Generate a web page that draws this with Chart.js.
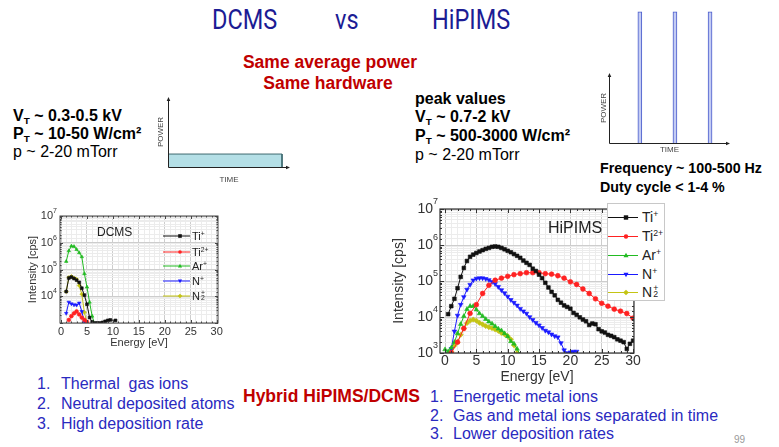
<!DOCTYPE html>
<html>
<head>
<meta charset="utf-8">
<title>DCMS vs HiPIMS</title>
<script src="https://cdn.jsdelivr.net/npm/chart.js@4.4.1/dist/chart.umd.min.js"></script>
<style>
  html, body { margin:0; padding:0; background:#fff; }
  body { width:779px; height:447px; position:relative; overflow:hidden;
         font-family:"Liberation Sans", Arial, Helvetica, sans-serif; color:#000; }
  .t { position:absolute; white-space:nowrap; line-height:1; }
  .title { font-family:Roboto, "Liberation Sans", sans-serif; font-size:28px; color:#1c1c94;
           transform:scaleX(0.84); transform-origin:left center; }
  .red { color:#c00000; font-weight:bold; font-size:17.5px; }
  .mid { transform:translateX(-50%); }
  .param { font-size:16px; }
  .bold { font-weight:bold; }
  sub.s { font-size:0.62em; vertical-align:-0.3em; line-height:0; }
  .freq { font-size:15px; font-weight:bold; transform:scaleX(0.95); transform-origin:left center; }
  .list { font-size:16px; color:#2a2ac0; }
  .pg { font-size:10px; color:#9a9a9a; }
  canvas { position:absolute; }
  .legend { position:absolute; }
  .hipLegend { background:#fff; border:1px solid #c8c8c8; box-sizing:border-box; }
  .lrow { position:absolute; left:0; display:flex; align-items:center; white-space:nowrap; line-height:1; color:#222; }
  .lrow svg { display:block; }
  .lrow sup { font-size:0.62em; vertical-align:0.6em; line-height:0; }
  .ss { position:relative; display:inline-block; width:0.45em; height:1em; vertical-align:top; }
  .ss .u { position:absolute; left:1px; top:-0.12em; font-size:0.62em; line-height:1; }
  .ss .d { position:absolute; left:1px; top:0.62em; font-size:0.62em; line-height:1; }
  .inlab { position:absolute; white-space:nowrap; line-height:1; color:#222; }
</style>
</head>
<body>

<!-- slide text -->
<div class="t title" style="left:212px;top:6px;">DCMS</div>
<div class="t title" style="left:335px;top:6px;">vs</div>
<div class="t title" style="left:432px;top:6px;">HiPIMS</div>

<div class="t red mid" style="left:330px;top:54px;">Same average power</div>
<div class="t red mid" style="left:328px;top:75px;">Same hardware</div>

<div class="t param bold" style="left:13px;top:108px;">V<sub class="s">T</sub> ~ 0.3-0.5 kV</div>
<div class="t param bold" style="left:13px;top:126px;">P<sub class="s">T</sub> ~ 10-50 W/cm²</div>
<div class="t param" style="left:13px;top:144px;">p ~ 2-20 mTorr</div>

<div class="t param bold" style="left:415px;top:91px;">peak values</div>
<div class="t param bold" style="left:415px;top:109px;">V<sub class="s">T</sub> ~ 0.7-2 kV</div>
<div class="t param bold" style="left:415px;top:128px;">P<sub class="s">T</sub> ~ 500-3000 W/cm²</div>
<div class="t param" style="left:415px;top:147px;">p ~ 2-20 mTorr</div>

<div class="t freq" style="left:600px;top:160px;">Frequency ~ 100-500 Hz</div>
<div class="t freq" style="left:600px;top:179px;">Duty cycle &lt; 1-4 %</div>

<div class="t list" style="left:37px;top:376px;">1.</div>
<div class="t list" style="left:61px;top:376px;">Thermal&nbsp; gas ions</div>
<div class="t list" style="left:37px;top:396px;">2.</div>
<div class="t list" style="left:61px;top:396px;">Neutral deposited atoms</div>
<div class="t list" style="left:37px;top:416px;">3.</div>
<div class="t list" style="left:61px;top:416px;">High deposition rate</div>

<div class="t red" style="left:243px;top:388px;">Hybrid HiPIMS/DCMS</div>

<div class="t list" style="left:430px;top:389px;">1.</div>
<div class="t list" style="left:453px;top:389px;">Energetic metal ions</div>
<div class="t list" style="left:430px;top:408px;">2.</div>
<div class="t list" style="left:453px;top:408px;">Gas and metal ions separated in time</div>
<div class="t list" style="left:430px;top:426px;">3.</div>
<div class="t list" style="left:453px;top:426px;">Lower deposition rates</div>

<div class="t pg" style="left:734px;top:435px;">99</div>

<!-- charts -->
<canvas id="dcPower" width="155" height="105" style="left:145px;top:85px;"></canvas>
<canvas id="pulsePower" width="150" height="155" style="left:590px;top:5px;"></canvas>
<canvas id="dcms" width="210" height="145" style="left:20px;top:205px;"></canvas>
<canvas id="hipims" width="265" height="200" style="left:380px;top:195px;"></canvas>

<div class="inlab" style="left:97px;top:226px;font-size:12px;">DCMS</div>
<div class="inlab" style="left:548px;top:220px;font-size:16px;">HiPIMS</div>

<div id="dcmsLegend" class="legend" style="left:163px;top:228px;width:50px;height:80px;"></div>
<div id="hipLegend" class="legend hipLegend" style="left:607px;top:203px;width:58px;height:98px;"></div>

<script>
// ---------- ion species ----------
const ionLabels = ['Ti+', 'Ti2+', 'Ar+', 'N+', 'N2+'];
const ionLegendHtml = ['Ti<sup>+</sup>', 'Ti<sup>2+</sup>', 'Ar<sup>+</sup>', 'N<sup>+</sup>',
                       'N<span class="ss"><span class="u">+</span><span class="d">2</span></span>'];
const ionColors = ['#111111', '#ff2222', '#22bb22', '#1a1aff', '#c4c414'];
const ionStyles = ['rect', 'circle', 'triangle', 'triangle', 'rectRot'];
const ionRotations = [0, 0, 0, 180, 0];

// ---------- HiPIMS ion energy distributions, intensity in cps ----------
const hipTiPlusE = [0.5,1,1.5,2,2.5,3,3.5,4,4.5,5,5.5,6,6.5,7,7.5,8,8.5,9,9.5,10,10.5,11,11.5,12,12.5,13,13.5,14,14.5,15,
                    15.5,16,16.5,17,17.5,18,18.5,19,19.5,20,20.5,21,21.5,22,22.5,23,23.5,24,24.5,25,25.5,26,26.5,27,27.5,28,28.5,29,29.5,30];
const hipTiPlusI = [12000,20000,32000,63000,130000,230000,360000,470000,540000,600000,
                    660000,720000,780000,830000,890000,910000,890000,830000,760000,690000,
                    630000,560000,500000,440000,370000,320000,280000,220000,190000,150000,
                    120000,89000,66000,50000,40000,30000,25000,21000,19000,17000,
                    13000,11500,9800,8500,7600,6000,6600,6300,4600,4000,
                    3700,3200,3000,2750,2400,2200,2000,1300,1800,2200];

const hipTi2PlusE = [1,2,3,4,5,6,7,8,9,10,11,12,13,14,15,16,17,18,19,20,21,22,23,24,25,26,27,28,29,30];
const hipTi2PlusI = [1000,2000,4800,12600,22000,45000,76000,105000,120000,135000,
                     150000,160000,170000,170000,170000,160000,155000,140000,120000,95000,
                     80000,60000,45000,32000,24000,20000,16500,14500,12500,9300];

const hipArPlusE = [0,0.5,1,1.5,2,2.5,3,3.5,4,4.5,5,5.5,6,6.5,7,7.5,8,8.5,9,9.5,10,10.5,11,11.5,12];
const hipArPlusI = [1250,1100,1400,2000,3500,6300,10500,16500,20000,20000,16000,12500,10500,
                    8700,7400,6500,5500,4700,4200,3500,2900,2100,1800,1300,900];

const hipNPlusE = [1,1.5,2,2.5,3,3.5,4,4.5,5,5.5,6,6.5,7,7.5,8,8.5,9,9.5,10,10.5,11,11.5,12,12.5,13,13.5,14,14.5,
                   15,15.5,16,16.5,17,17.5,18,18.5,19,19.5,20,20.5,21];
const hipNPlusI = [1300,4000,11000,22000,36000,58000,79000,105000,117000,120000,
                   120000,115000,107000,95000,83000,69000,56000,46000,37000,30000,
                   25000,21000,17000,14500,12500,10000,8300,6900,5900,5000,
                   4200,3800,3300,2950,2750,1900,1200,1000,1050,1100,1100];

const hipN2PlusE = [1,1.5,2,2.5,3,3.5,4,4.5,5,5.5,6,6.5,7,7.5,8,8.5,9,9.5,10,10.5,11,11.5];
const hipN2PlusI = [1100,1600,2000,3200,4800,6800,7900,8500,7900,6900,6200,5600,5200,4900,4500,4100,
                    3600,3300,2950,2400,1650,1000];

// ---------- DCMS ion energy distributions, intensity in cps ----------
const dcTiPlusE = [1,1.5,2,2.5,3,3.5,4,4.5,5,5.5,6,6.5,7,7.5,8,8.5,9,9.5,10.5];
const dcTiPlusI = [15000,48000,52000,46000,40000,33000,20000,11000,5000,1600,1100,1000,1000,1000,1050,1150,1250,1300,1250];
const dcTi2PlusE = [1.5,2,2.5,3,3.5,4,4.5,5];
const dcTi2PlusI = [1300,1800,2300,2700,2100,1600,1300,1100];
const dcArPlusE = [1,1.5,2,2.5,3,3.5,4,4.5,5,5.5,6,6.5];
const dcArPlusI = [200000,500000,750000,720000,560000,420000,300000,70000,22000,6000,1800,900];
const dcNPlusE = [1,1.5,2,2.5,3,3.5,4,4.5];
const dcNPlusI = [2300,6000,5200,4800,4700,5600,2700,1100];
const dcN2PlusE = [1,1.5,2,2.5,3,3.5,4,4.5,5];
const dcN2PlusI = [15000,50000,55000,48000,43000,25000,12000,2500,1000];

// tick labels: energy every 5 eV, intensity as powers of ten
const energyLabelStep = 5;
const hipDecades = [3, 4, 5, 6, 7];
const dcmsDecades = [4, 5, 6, 7];

// ---------- power vs time sketches ----------
const dcPowerTime = [0, 10, 10];
const dcPowerLevel = [1, 1, 0];
const pulseTimes = [2.55, 5.45, 8.35];
const pulsePeak = [10, 10, 10];

// ---------- helpers ----------
const FAM = '"Liberation Sans", Arial, Helvetica, sans-serif';
Chart.defaults.font.family = FAM;
Chart.defaults.color = '#333';
Chart.defaults.animation = false;

const pts = (xs, ys) => xs.map((x, i) => ({ x, y: ys[i] }));
const isDecade = v => Math.abs(Math.log10(v) - Math.round(Math.log10(v))) < 1e-6;
const isMajorE = v => Math.abs(v % energyLabelStep) < 1e-9;

function ionSet(i, xs, ys, r) {
  return {
    label: ionLabels[i], data: pts(xs, ys),
    borderColor: ionColors[i], backgroundColor: ionColors[i],
    borderWidth: 1, tension: 0,
    pointStyle: ionStyles[i], rotation: ionRotations[i],
    pointRadius: r, pointBorderWidth: 0.6, pointBorderColor: ionColors[i]
  };
}

// frame, inward tick marks, energy labels and 10^n labels around the plot area
const plotFrame = {
  id: 'plotFrame',
  afterDatasetsDraw(chart, args, o) {
    const { ctx, chartArea: a, scales: { x, y } } = chart;
    ctx.save();
    ctx.strokeStyle = o.color;
    ctx.lineWidth = 1;
    ctx.beginPath();
    x.ticks.forEach(t => {
      const px = Math.round(x.getPixelForValue(t.value)) + 0.5;
      const len = isMajorE(t.value) ? o.major : o.minor;
      ctx.moveTo(px, a.bottom); ctx.lineTo(px, a.bottom - len);
      ctx.moveTo(px, a.top); ctx.lineTo(px, a.top + len);
    });
    y.ticks.forEach(t => {
      const py = Math.round(y.getPixelForValue(t.value)) + 0.5;
      const len = isDecade(t.value) ? o.major : o.minor;
      ctx.moveTo(a.left, py); ctx.lineTo(a.left + len, py);
      ctx.moveTo(a.right, py); ctx.lineTo(a.right - len, py);
    });
    ctx.stroke();
    ctx.lineWidth = o.frameWidth;
    ctx.strokeRect(a.left, a.top, a.right - a.left, a.bottom - a.top);

    ctx.fillStyle = o.labelColor;
    // energy labels under the frame
    ctx.textAlign = 'center';
    ctx.textBaseline = 'top';
    ctx.font = o.baseSize + 'px ' + FAM;
    x.ticks.forEach(t => {
      if (isMajorE(t.value)) ctx.fillText(String(t.value), x.getPixelForValue(t.value), a.bottom + o.xLabelGap);
    });
    // decade labels left of the frame
    ctx.textBaseline = 'middle';
    ctx.textAlign = 'right';
    o.decades.forEach(e => {
      const py = y.getPixelForValue(Math.pow(10, e));
      const xr = a.left - o.gap;
      ctx.font = o.expSize + 'px ' + FAM;
      const ew = ctx.measureText(String(e)).width;
      ctx.fillText(String(e), xr, py - o.expRaise);
      ctx.font = o.baseSize + 'px ' + FAM;
      ctx.fillText('10', xr - ew, py + o.baseShift);
    });
    ctx.restore();
  }
};

// axis lines with arrow heads for the power sketches
const arrowAxes = {
  id: 'arrowAxes',
  afterDraw(chart, args, o) {
    const { ctx, scales: { x, y } } = chart;
    const x0 = Math.round(x.getPixelForValue(0)) + 0.5;
    const y0 = Math.round(y.getPixelForValue(0)) + 0.5;
    const yTop = y.getPixelForValue(o.yEnd);
    const xEnd = x.getPixelForValue(o.xEnd);
    ctx.save();
    ctx.strokeStyle = o.color; ctx.fillStyle = o.color; ctx.lineWidth = 1;
    ctx.beginPath();
    ctx.moveTo(x0, y0); ctx.lineTo(x0, yTop + 3);
    ctx.moveTo(x0, y0); ctx.lineTo(xEnd - 3, y0);
    ctx.stroke();
    ctx.beginPath();
    ctx.moveTo(x0, yTop); ctx.lineTo(x0 - 1.8, yTop + 4); ctx.lineTo(x0 + 1.8, yTop + 4); ctx.closePath();
    ctx.moveTo(xEnd, y0); ctx.lineTo(xEnd - 4, y0 - 1.8); ctx.lineTo(xEnd - 4, y0 + 1.8); ctx.closePath();
    ctx.fill();
    ctx.restore();
  }
};

function energyAxis(min, max, height, fontSize, titleBottom) {
  return {
    type: 'linear', min, max,
    afterFit: s => { s.height = height; },
    ticks: {
      stepSize: 1, autoSkip: false, includeBounds: false, maxTicksLimit: 100, maxRotation: 0,
      font: { size: fontSize }, callback: () => ''
    },
    grid: { drawTicks: false, color: c => (c.tick && isMajorE(c.tick.value) ? '#cdcdcd' : '#ececec') },
    border: { display: false },
    title: { display: true, text: 'Energy [eV]', color: '#333', font: { size: fontSize, lineHeight: 1.2 },
             padding: { top: 0, bottom: titleBottom } }
  };
}

function intensityAxis(width, fontSize, titleTop) {
  return {
    type: 'logarithmic', min: 1000, max: 1e7,
    afterFit: s => { s.width = width; },
    ticks: { autoSkip: false, callback: () => '' },
    grid: { drawTicks: false, color: c => (c.tick && isDecade(c.tick.value) ? '#cdcdcd' : '#ececec') },
    border: { display: false },
    title: { display: true, text: 'Intensity [cps]', color: '#333', font: { size: fontSize, lineHeight: 1.2 },
             padding: { top: titleTop, bottom: 0 } }
  };
}

// ---------- HiPIMS chart ----------
new Chart(document.getElementById('hipims'), {
  type: 'line',
  data: { datasets: [
    ionSet(0, hipTiPlusE, hipTiPlusI, 2.6),
    ionSet(1, hipTi2PlusE, hipTi2PlusI, 2.4),
    ionSet(2, hipArPlusE, hipArPlusI, 2.6),
    ionSet(3, hipNPlusE, hipNPlusI, 2.6),
    ionSet(4, hipN2PlusE, hipN2PlusI, 2.6)
  ] },
  options: {
    responsive: false, devicePixelRatio: 1,
    layout: { padding: { top: 14, right: 11, left: 0, bottom: 0 } },
    plugins: {
      legend: { display: false }, tooltip: { enabled: false },
      plotFrame: { color: '#333', frameWidth: 1.2, major: 4, minor: 2, decades: hipDecades,
                   labelColor: '#333', baseSize: 14, expSize: 9, gap: 2, expRaise: 7, baseShift: 0,
                   xLabelGap: 1 }
    },
    scales: { x: energyAxis(-0.8, 30.15, 42, 14, 9), y: intensityAxis(60, 14, 11) }
  },
  plugins: [plotFrame]
});

// ---------- DCMS chart ----------
new Chart(document.getElementById('dcms'), {
  type: 'line',
  data: { datasets: [
    ionSet(0, dcTiPlusE, dcTiPlusI, 2),
    ionSet(1, dcTi2PlusE, dcTi2PlusI, 1.9),
    ionSet(2, dcArPlusE, dcArPlusI, 2),
    ionSet(3, dcNPlusE, dcNPlusI, 2),
    ionSet(4, dcN2PlusE, dcN2PlusI, 2)
  ] },
  options: {
    responsive: false, devicePixelRatio: 1,
    layout: { padding: { top: 11, right: 12, left: 0, bottom: 0 } },
    plugins: {
      legend: { display: false }, tooltip: { enabled: false },
      plotFrame: { color: '#444', frameWidth: 1, major: 3, minor: 1.5, decades: dcmsDecades,
                   labelColor: '#333', baseSize: 11, expSize: 7, gap: 3, expRaise: 5, baseShift: 0,
                   xLabelGap: 3 }
    },
    scales: { x: energyAxis(-0.2, 30.25, 27, 11, 0), y: intensityAxis(40, 11, 6) }
  },
  plugins: [plotFrame]
});

// ---------- power sketches ----------
function sketchAxis(text, pad) {
  return {
    display: true,
    grid: { display: false }, border: { display: false },
    ticks: { display: false },
    title: { display: true, text, color: '#444', font: { size: 8, lineHeight: 1.2 }, padding: pad }
  };
}

// constant DC power
new Chart(document.getElementById('dcPower'), {
  type: 'line',
  data: { datasets: [{
    data: pts(dcPowerTime, dcPowerLevel),
    borderColor: '#3e6a70', borderWidth: 1, backgroundColor: '#b4dfe6',
    fill: 'origin', pointRadius: 0, tension: 0
  }] },
  options: {
    responsive: false, devicePixelRatio: 1,
    layout: { padding: { top: 12, right: 10, left: 0, bottom: 0 } },
    plugins: { legend: { display: false }, tooltip: { enabled: false },
               arrowAxes: { color: '#222', xEnd: 10.7, yEnd: 5.4 } },
    scales: {
      x: Object.assign(sketchAxis('TIME', { top: 0, bottom: 5 }),
                       { type: 'linear', min: 0, max: 10.7, afterFit: s => { s.height = 23; } }),
      y: Object.assign(sketchAxis('POWER', { top: 11, bottom: 0 }),
                       { type: 'linear', min: 0, max: 5.4, afterFit: s => { s.width = 23; } })
    }
  },
  plugins: [arrowAxes]
});

// short high-power pulses
new Chart(document.getElementById('pulsePower'), {
  type: 'bar',
  data: { datasets: [{
    data: pts(pulseTimes, pulsePeak),
    backgroundColor: '#c3cbf3', borderColor: '#4a5ccc', borderWidth: 1,
    barThickness: 4, clip: false
  }] },
  options: {
    responsive: false, devicePixelRatio: 1,
    layout: { padding: { top: 68, right: 10, left: 0, bottom: 0 } },
    plugins: { legend: { display: false }, tooltip: { enabled: false },
               arrowAxes: { color: '#222', xEnd: 10, yEnd: 5.34 } },
    scales: {
      x: Object.assign(sketchAxis('TIME', { top: 0, bottom: 5 }),
                       { type: 'linear', min: 0, max: 10, offset: false, afterFit: s => { s.height = 17; } }),
      y: Object.assign(sketchAxis('POWER', { top: 9, bottom: 0 }),
                       { type: 'linear', min: 0, max: 5.34, afterFit: s => { s.width = 19; } })
    }
  },
  plugins: [arrowAxes]
});

// ---------- legends (line with marker, then species name) ----------
function glyph(i, w, mx, r) {
  const c = ionColors[i], s = ionStyles[i], h = Math.ceil(2 * r + 4), cy = h / 2;
  let m = '';
  if (s === 'rect') m = `<rect x="${mx - r}" y="${cy - r}" width="${2 * r}" height="${2 * r}" fill="${c}"/>`;
  else if (s === 'circle') m = `<circle cx="${mx}" cy="${cy}" r="${r}" fill="${c}"/>`;
  else if (s === 'rectRot') m = `<polygon points="${mx},${cy - r * 1.3} ${mx + r * 1.3},${cy} ${mx},${cy + r * 1.3} ${mx - r * 1.3},${cy}" fill="${c}"/>`;
  else if (ionRotations[i] === 180) m = `<polygon points="${mx},${cy + r * 1.2} ${mx - r * 1.15},${cy - r * 0.8} ${mx + r * 1.15},${cy - r * 0.8}" fill="${c}"/>`;
  else m = `<polygon points="${mx},${cy - r * 1.2} ${mx - r * 1.15},${cy + r * 0.8} ${mx + r * 1.15},${cy + r * 0.8}" fill="${c}"/>`;
  return `<svg width="${w}" height="${h}"><line x1="0" y1="${cy}" x2="${w}" y2="${cy}" stroke="${c}" stroke-width="1"/>${m}</svg>`;
}

function buildLegend(id, rowsY, w, mx, r, fontSize, gap) {
  const el = document.getElementById(id);
  ionLabels.forEach((lab, i) => {
    const row = document.createElement('div');
    row.className = 'lrow';
    row.style.top = (rowsY[i] - fontSize / 2) + 'px';
    row.style.height = fontSize + 'px';
    row.style.fontSize = fontSize + 'px';
    row.innerHTML = glyph(i, w, mx, r) + `<span style="margin-left:${gap}px">${ionLegendHtml[i]}</span>`;
    el.appendChild(row);
  });
}
buildLegend('hipLegend', [13, 32, 51, 70, 88], 30, 18, 2.2, 14, 4);
buildLegend('dcmsLegend', [8, 24, 38, 53, 68], 27, 17, 1.8, 11, 2);
</script>
</body>
</html>
